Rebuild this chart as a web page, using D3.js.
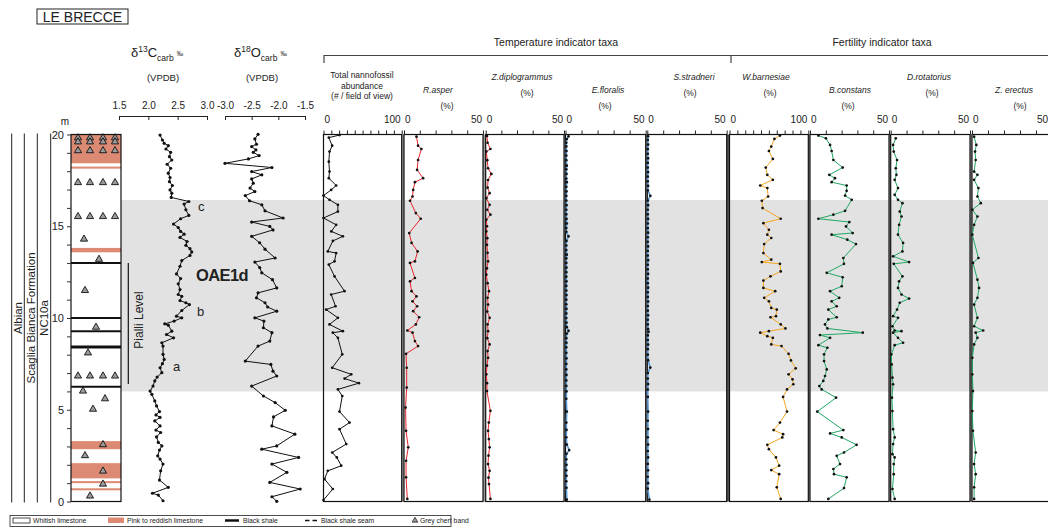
<!DOCTYPE html>
<html>
<head>
<meta charset="utf-8">
<script src="https://cdn.jsdelivr.net/npm/d3@7"></script>
<style>
  body { margin: 0; background: #fff; }
  svg { display: block; }
  text { font-family: "Liberation Sans", Arial, sans-serif; fill: #222; }
</style>
</head>
<body>
<svg id="chart" width="1048" height="527"></svg>
<script>
// ---- data: [depth (m), value] ----
const d13C = [[19.97,2.20],[19.70,2.24],[19.52,2.27],[19.39,2.34],[19.21,2.30],[19.03,2.38],[18.79,2.36],[18.61,2.40],[18.38,2.32],[18.16,2.38],[17.89,2.34],[17.65,2.37],[17.43,2.36],[17.22,2.41],[16.98,2.37],[16.80,2.40],[16.57,2.39],[16.35,2.69],[16.21,2.61],[15.90,2.64],[15.59,2.69],[15.41,2.55],[15.12,2.43],[14.93,2.51],[14.72,2.55],[14.57,2.61],[14.39,2.54],[14.17,2.66],[13.96,2.64],[13.78,2.71],[13.60,2.74],[13.41,2.71],[13.13,2.57],[12.82,2.54],[12.40,2.48],[12.15,2.55],[11.86,2.51],[11.55,2.54],[11.28,2.51],[11.18,2.57],[10.95,2.54],[10.83,2.64],[10.73,2.70],[10.41,2.57],[10.10,2.48],[10.01,2.57],[9.83,2.44],[9.68,2.28],[9.61,2.34],[9.28,2.40],[9.10,2.31],[8.92,2.43],[8.65,2.23],[8.47,2.25],[8.02,2.25],[7.74,2.27],[7.51,2.24],[7.29,2.20],[7.02,2.23],[6.78,2.15],[6.57,2.11],[6.29,2.08],[6.02,2.03],[5.84,2.06],[5.48,2.11],[5.21,2.14],[4.90,2.19],[4.72,2.13],[4.58,2.20],[4.39,2.11],[4.12,2.20],[3.89,2.13],[3.76,2.21],[3.52,2.14],[3.22,2.17],[3.03,2.23],[2.80,2.19],[2.49,2.16],[2.31,2.20],[2.04,2.25],[1.67,2.21],[1.17,2.19],[0.77,2.34],[0.45,2.07],[0.35,2.17],[0.04,2.25]];

const d18O = [[20.01,-2.38],[19.76,-2.44],[19.47,-2.41],[19.34,-2.50],[19.16,-2.42],[19.03,-2.47],[18.85,-2.36],[18.67,-2.56],[18.43,-3.00],[18.20,-2.12],[17.98,-2.50],[17.80,-2.31],[17.58,-2.50],[17.35,-2.47],[17.08,-2.53],[16.89,-2.44],[16.67,-2.62],[16.39,-2.54],[16.17,-2.31],[15.84,-2.25],[15.45,-1.91],[15.23,-2.50],[14.99,-2.16],[14.80,-2.10],[14.45,-2.50],[14.10,-2.35],[13.75,-2.25],[13.27,-2.06],[13.05,-2.44],[12.75,-2.35],[12.46,-2.31],[12.09,-2.11],[11.64,-2.03],[11.37,-2.38],[11.10,-2.41],[10.83,-2.25],[10.60,-2.20],[10.37,-2.03],[10.01,-2.44],[9.83,-2.27],[9.47,-2.28],[9.20,-2.12],[8.74,-2.16],[8.47,-2.38],[7.65,-2.62],[7.47,-2.14],[7.10,-2.10],[6.84,-2.03],[6.29,-2.50],[5.75,-2.28],[5.39,-2.06],[4.97,-1.87],[4.61,-2.09],[4.12,-2.12],[3.67,-1.69],[3.03,-2.03],[2.85,-2.31],[2.40,-1.62],[2.04,-2.12],[1.59,-1.84],[1.04,-2.16],[0.68,-1.59],[0.26,-2.12],[0.01,-2.03]];

const abundance = [[19.97,20.5],[19.83,6.8],[19.39,11.1],[19.07,7.7],[18.52,6.8],[17.98,7.7],[17.62,6.8],[17.22,16.2],[16.98,9.8],[16.67,0],[16.44,7.7],[16.17,18.4],[15.80,18.4],[15.45,0],[15.08,16.2],[14.72,10],[14.45,24.8],[14.20,12],[13.63,5.5],[13.54,16.2],[13.09,14.1],[12.91,6.8],[12.27,14.1],[11.46,26.9],[11.28,9.8],[10.64,15.4],[10.46,3.4],[10.01,18.4],[9.65,7.7],[9.28,24.8],[9.20,11.9],[8.92,18.4],[8.02,24],[7.29,11.1],[6.93,35.5],[6.70,27],[6.45,45.3],[6.11,18.4],[5.75,24],[4.90,20.5],[4.30,33.3],[3.94,20.5],[3.13,29.1],[2.67,11.1],[2.40,17],[1.95,22.7],[1.67,5.5],[1.22,1.3],[0.68,11.9],[0.08,0]];

const rAsper = [[19.88,7.9],[19.39,8.9],[19.21,11.0],[18.61,8.9],[18.07,8.3],[17.62,12.1],[17.40,6.9],[16.98,5.8],[16.62,5.4],[16.39,3.8],[15.72,7.5],[15.41,10.6],[14.63,3.3],[14.09,4.8],[13.63,8.6],[13.09,6.9],[13.00,3.8],[12.18,6.9],[12.00,3.8],[11.46,4.8],[11.18,7.9],[10.91,5.4],[10.64,8.3],[10.37,5.8],[10.04,9.6],[9.65,7.5],[9.32,2.1],[9.20,5.4],[8.74,6.9],[8.47,8.9],[8.05,1.3],[7.29,1.7],[6.21,1.7],[5.12,1.0],[3.85,1.3],[2.95,2.7],[2.22,1.3],[1.32,1.3],[0.14,2.1]];

const zDiplogrammus = [[19.92,0.8],[19.55,1.2],[19.21,3.0],[19.07,0.4],[18.60,1.0],[18.16,1.5],[17.85,3.6],[17.52,1.5],[17.10,1.2],[16.80,2.5],[16.53,0.4],[16.17,2.5],[15.90,1.0],[15.63,3.0],[15.35,0.4],[15.00,0.8],[14.72,0.4],[14.35,1.0],[13.99,0.8],[13.55,1.2],[13.09,1.5],[12.70,0.8],[12.36,0.4],[11.90,1.2],[11.46,2.1],[11.10,1.2],[10.73,1.5],[10.35,1.0],[10.01,2.5],[9.65,1.2],[9.28,1.5],[8.90,1.0],[8.56,2.5],[8.20,1.2],[7.83,1.5],[7.40,0.8],[6.93,0.4],[6.45,0.8],[6.02,0.8],[4.94,3.0],[4.30,2.0],[3.85,1.5],[3.40,2.0],[2.95,2.5],[2.50,1.8],[2.04,1.5],[1.67,2.5],[1.30,1.8],[0.95,2.1],[0.14,3.0]];

const eFloralis = [[19.90,1.9],[19.75,0.8],[19.55,0.5],[19.35,0.5],[19.10,0.6],[18.85,0.5],[18.60,0.5],[18.30,0.8],[18.10,0.5],[17.85,0.6],[17.60,0.5],[17.40,0.8],[17.15,0.5],[16.90,0.6],[16.65,0.5],[16.40,0.5],[16.15,0.6],[15.90,0.5],[15.65,0.5],[15.40,0.6],[15.15,0.8],[14.90,0.5],[14.70,0.5],[14.45,1.9],[14.20,0.6],[13.95,0.5],[13.70,0.5],[13.45,0.8],[13.25,0.5],[13.00,0.5],[12.75,0.6],[12.50,0.5],[12.25,0.5],[12.00,0.6],[11.75,0.5],[11.50,0.5],[11.25,0.6],[11.00,0.5],[10.75,0.5],[10.50,0.6],[10.25,0.5],[10.00,0.5],[9.75,0.6],[9.50,0.8],[9.30,1.9],[9.15,0.8],[8.90,0.5],[8.65,0.6],[8.40,0.5],[8.10,0.5],[7.80,0.6],[7.50,0.5],[7.20,0.5],[6.90,0.6],[6.60,0.5],[6.30,0.5],[6.00,0.6],[5.60,0.5],[4.90,0.8],[4.30,0.5],[3.90,0.6],[3.50,0.5],[3.10,0.8],[2.80,2.3],[2.60,0.6],[2.30,0.5],[2.00,0.6],[1.70,0.5],[1.40,0.6],[1.10,0.5],[0.75,0.6],[0.10,0.8]];

const sStradneri = [[19.90,0.5],[19.70,0.3],[19.45,0.5],[19.20,0.3],[18.95,0.3],[18.70,0.5],[18.45,0.3],[18.20,0.3],[17.95,0.5],[17.70,0.3],[17.45,0.3],[17.20,0.5],[16.95,0.3],[16.66,1.9],[16.40,0.3],[16.15,0.5],[15.90,0.3],[15.65,0.3],[15.40,0.5],[15.15,0.3],[14.90,0.3],[14.65,0.5],[14.40,0.3],[14.15,0.3],[13.90,0.5],[13.65,0.3],[13.40,0.3],[13.15,0.5],[12.90,0.3],[12.65,0.3],[12.40,0.5],[12.15,0.3],[11.90,0.3],[11.65,0.5],[11.40,0.3],[11.15,0.3],[10.90,0.5],[10.65,0.3],[10.40,0.3],[10.15,0.5],[9.90,0.3],[9.65,0.3],[9.40,0.5],[9.25,0.8],[9.05,0.3],[8.80,0.3],[8.55,0.5],[8.30,0.3],[8.00,0.3],[7.70,0.5],[7.30,1.9],[7.00,0.3],[6.70,0.3],[6.40,0.5],[6.10,0.3],[5.70,0.3],[4.90,0.5],[4.40,0.3],[3.95,0.5],[3.50,0.3],[3.10,0.5],[2.75,0.3],[2.40,0.5],[2.05,0.3],[1.70,0.5],[1.35,0.3],[1.00,0.5],[0.70,0.3],[0.10,1.3]];

const wBarnesiae = [[19.94,64],[19.76,57],[19.34,53],[19.10,50],[18.67,55],[18.20,46],[17.80,48],[17.53,55],[17.22,39],[17.08,48],[16.62,49],[16.39,41],[15.99,42],[15.41,65],[15.17,43],[14.81,50],[14.54,48],[14.36,53],[14.03,44],[13.54,43],[13.18,53],[13.05,41],[12.95,64],[12.54,65],[12.27,52],[12.04,43],[11.64,43],[11.46,58],[11.10,44],[10.91,50],[10.55,53],[10.46,60],[10.10,59],[10.04,52],[9.65,65],[9.43,71],[9.28,50],[9.20,39],[9.01,48],[8.92,55],[8.56,53],[8.47,66],[8.05,75],[7.69,78],[7.26,84],[6.93,75],[6.66,80],[6.39,81],[6.11,73],[5.70,68],[4.90,73],[4.30,64],[3.89,56],[3.67,68],[3.49,67],[3.09,48],[2.85,50],[2.40,59],[1.95,63],[1.71,53],[1.49,63],[0.77,60],[0.14,65]];

const bConstans = [[19.94,5.3],[19.79,10.1],[19.43,12.7],[19.10,13.7],[18.61,14.8],[18.20,20.7],[17.80,12.2],[17.62,15.8],[17.40,13.7],[17.22,23.2],[16.93,23.2],[16.67,22.2],[16.44,26.4],[15.84,22.2],[15.63,14.8],[15.41,5.3],[15.23,24.9],[14.99,22.8],[14.63,27.0],[14.54,13.7],[14.27,23.6],[14.03,29.1],[13.27,21.1],[12.95,21.5],[12.46,10.6],[12.22,20.7],[11.73,20.1],[11.46,12.7],[11.10,18.5],[10.91,13.7],[10.64,16.9],[10.46,11.6],[10.04,16.9],[9.92,11.6],[9.65,9.5],[9.43,11.0],[9.20,33.4],[9.07,6.3],[8.92,12.7],[8.52,5.3],[8.38,11.0],[8.02,8.9],[7.65,8.9],[7.20,10.6],[6.84,9.5],[6.57,8.4],[6.29,5.9],[6.11,7.4],[5.66,16.5],[4.90,4.6],[3.89,21.1],[3.71,12.7],[3.49,20.1],[3.09,29.5],[2.67,21.5],[2.49,16.9],[2.04,19.0],[1.77,14.8],[1.49,15.2],[1.32,23.2],[0.73,21.5],[0.14,11.6]];

const dRotatorius = [[19.79,3.2],[19.43,1.5],[19.07,1.9],[18.61,4.0],[18.16,3.2],[17.80,3.6],[17.53,2.5],[17.08,4.6],[16.71,2.5],[16.44,4.6],[16.26,7.4],[15.80,5.7],[15.53,6.8],[15.08,5.3],[14.54,4.6],[14.09,7.8],[13.63,7.4],[13.36,1.5],[13.05,11.6],[12.95,1.9],[12.27,7.4],[12.00,5.3],[11.64,4.6],[11.28,6.8],[11.06,11.6],[10.83,5.7],[10.46,4.0],[10.10,1.5],[10.01,4.6],[9.55,1.1],[9.32,2.5],[9.28,6.8],[9.20,1.5],[8.92,4.6],[8.65,7.8],[8.52,2.5],[8.02,0.4],[7.47,0.6],[6.75,1.1],[6.39,1.5],[5.66,0.8],[4.93,1.1],[3.94,1.5],[3.49,2.5],[3.13,1.5],[2.58,1.1],[2.40,2.5],[2.04,1.9],[1.49,1.9],[0.68,1.1],[0.14,2.5]];

const zErectus = [[19.88,1.3],[19.43,2.7],[19.07,1.9],[18.61,2.3],[17.98,1.3],[17.80,3.4],[17.53,1.3],[17.08,4.0],[16.62,3.4],[16.26,5.5],[15.90,0.2],[15.53,3.4],[15.08,1.3],[14.54,0.2],[13.27,4.0],[13.00,0.6],[12.09,3.4],[11.64,4.4],[11.10,3.4],[10.73,1.3],[10.01,3.4],[9.55,1.3],[9.32,7.0],[9.20,2.3],[8.92,3.4],[8.56,1.3],[7.83,0.2],[6.93,0.2],[6.02,0.6],[4.93,0.2],[3.85,0.6],[2.67,2.3],[2.04,1.3],[1.49,2.3],[0.77,1.3],[0.14,1.3]];

// lithology (depth intervals, m)
const pinkBeds = [[18.43,20],[18.14,18.25],[13.58,13.82],[2.85,3.29],[1.26,2.09],[1.0,1.11],[0.61,0.72]];
const blackShale = [13.0,10.0,9.28,8.42,6.26];
const chertRows = [19.82,19.6,19.12,17.38,15.53,6.84];
const chertSingle = [[14.3,0.26],[13.2,0.56],[11.5,0.28],[9.5,0.5],[8.1,0.34],[6.02,0.24],[5.6,0.68],[5.03,0.44],[3.1,0.64],[2.5,0.28],[1.66,0.64],[0.95,0.64],[0.3,0.38]];
const oaeBand = [6.0, 16.43];

// ---- layout ----
const svg = d3.select("#chart");
const y = d3.scaleLinear().domain([0, 20]).range([501.5, 134.5]);
const colX0 = 71, colX1 = 121;
const PINK = "#dc8a74";

// grey OAE band
svg.append("rect").attr("x", colX1).attr("width", 1048 - colX1)
  .attr("y", y(oaeBand[1])).attr("height", y(oaeBand[0]) - y(oaeBand[1]))
  .attr("fill", "#e1e2e1");

// title box
svg.append("rect").attr("x", 37).attr("y", 9).attr("width", 91).attr("height", 15)
  .attr("fill", "none").attr("stroke", "#222").attr("stroke-width", 1);
svg.append("text").attr("x", 82.5).attr("y", 21.5).attr("text-anchor", "middle")
  .attr("font-size", 14).text("LE BRECCE");

// stratigraphic columns
[11.7, 24.3, 37.3, 50.7].forEach(x => {
  svg.append("line").attr("x1", x).attr("x2", x).attr("y1", y(20) - 1).attr("y2", y(0) + 1)
    .attr("stroke", "#222").attr("stroke-width", 1);
});
[["Albian", 18], ["Scaglia Bianca Formation", 31], ["NC10a", 44]].forEach(([t, x]) => {
  svg.append("text").attr("transform", `translate(${x + 4},318) rotate(-90)`)
    .attr("text-anchor", "middle").attr("font-size", 11.5).text(t);
});

// lithology column
const lith = svg.append("g");
lith.append("rect").attr("x", colX0).attr("y", y(20)).attr("width", colX1 - colX0)
  .attr("height", y(0) - y(20)).attr("fill", "#fff");
lith.selectAll(".pink").data(pinkBeds).join("rect")
  .attr("x", colX0).attr("width", colX1 - colX0)
  .attr("y", d => y(d[1])).attr("height", d => y(d[0]) - y(d[1])).attr("fill", PINK);
lith.selectAll(".shale").data(blackShale).join("line")
  .attr("x1", colX0).attr("x2", colX1).attr("y1", d => y(d)).attr("y2", d => y(d))
  .attr("stroke", "#111").attr("stroke-width", (d, i) => i === 3 ? 2.8 : 2);
const tri = d3.symbol().type(d3.symbolTriangle).size(22);
const chertPts = [];
chertRows.forEach(dep => [0.14, 0.38, 0.64, 0.88].forEach(f => chertPts.push([dep, f])));
chertSingle.forEach(p => chertPts.push(p));
lith.selectAll(".tri").data(chertPts).join("path")
  .attr("d", tri).attr("transform", d => `translate(${colX0 + d[1] * (colX1 - colX0)},${y(d[0])})`)
  .attr("fill", "#9b9b9b").attr("stroke", "#111").attr("stroke-width", 0.9);
lith.append("rect").attr("x", colX0).attr("y", y(20)).attr("width", colX1 - colX0)
  .attr("height", y(0) - y(20)).attr("fill", "none").attr("stroke", "#111").attr("stroke-width", 1.2);

// depth axis
const yAxis = svg.append("g").attr("transform", `translate(${colX0},0)`)
  .call(d3.axisLeft(y).tickValues(d3.range(0, 21)).tickSize(4).tickPadding(3)
    .tickFormat(d => d % 5 === 0 ? d : ""));
yAxis.select(".domain").remove();
yAxis.selectAll("text").attr("font-family", "'Liberation Serif', 'DejaVu Serif', serif")
  .attr("font-size", 11).attr("fill", "#333");
yAxis.selectAll("line").attr("stroke", "#333");
svg.append("text").attr("x", 65).attr("y", 125).attr("text-anchor", "middle")
  .attr("font-size", 10).text("m");

// Pialli Level
svg.append("line").attr("x1", 128.3).attr("x2", 128.3).attr("y1", y(13)).attr("y2", y(6.4))
  .attr("stroke", "#111").attr("stroke-width", 1.2);
svg.append("text").attr("transform", "translate(143,320) rotate(-90)")
  .attr("text-anchor", "middle").attr("font-size", 12).attr("fill", "#333").text("Pialli Level");

// profile helper
function drawProfile(data, x, color, r, w) {
  const pts = data.slice().sort((a, b) => b[0] - a[0]);
  const line = d3.line().x(d => x(d[1])).y(d => y(d[0]));
  svg.append("path").datum(pts).attr("d", line).attr("fill", "none")
    .attr("stroke", color).attr("stroke-width", w || 1);
  svg.append("g").selectAll("circle").data(pts).join("circle")
    .attr("cx", d => x(d[1])).attr("cy", d => y(d[0])).attr("r", r).attr("fill", "#111");
}

function isoHeader(x, sup, letter, cx, tickVals, scale) {
  const t = svg.append("text").attr("x", x).attr("y", 57).attr("font-size", 13);
  t.append("tspan").text("δ");
  t.append("tspan").attr("dy", -5).attr("font-size", 8.5).text(sup);
  t.append("tspan").attr("dy", 5).text(letter);
  t.append("tspan").attr("dy", 4).attr("font-size", 8.5).text("carb");
  t.append("tspan").attr("dy", -5).attr("dx", 3).attr("font-size", 6.5).text("‰");
  svg.append("text").attr("x", cx).attr("y", 81).attr("text-anchor", "middle")
    .attr("font-size", 9.5).text("(VPDB)");
  const ax = svg.append("g").attr("transform", "translate(0,116)")
    .call(d3.axisTop(scale).tickValues(tickVals).tickSize(-4).tickPadding(7)
      .tickFormat(d => d.toFixed(1)));
  ax.selectAll("text").attr("font-size", 10).attr("font-family", "'Liberation Sans', Arial, sans-serif");
  ax.selectAll("path,line").attr("stroke", "#222");
}

const xC = d3.scaleLinear().domain([1.5, 3.0]).range([119, 207]);
const xO = d3.scaleLinear().domain([-3.0, -1.5]).range([225, 305]);
isoHeader(131, "13", "C", 163, [1.5, 2.0, 2.5, 3.0], xC);
isoHeader(234, "18", "O", 262, [-3.0, -2.5, -2.0, -1.5], xO);
drawProfile(d13C, xC, "#111", 1.6);
drawProfile(d18O, xO, "#111", 1.6);

const osans = "'Open Sans', sans-serif";
svg.append("text").attr("x", 198).attr("y", 211).attr("font-family", osans)
  .attr("font-size", 13).attr("fill", "#333").text("c");
svg.append("text").attr("x", 197).attr("y", 316).attr("font-family", osans)
  .attr("font-size", 13).attr("fill", "#333").text("b");
svg.append("text").attr("x", 173).attr("y", 371).attr("font-family", osans)
  .attr("font-size", 13).attr("fill", "#333").text("a");
svg.append("text").attr("x", 196).attr("y", 281).attr("font-family", osans)
  .attr("font-size", 16.5).attr("font-weight", "bold").attr("letter-spacing", -0.6)
  .attr("fill", "#222").text("OAE1d");

// ---- nannofossil panels ----
const RED = "#e8262c", BLUE = "#5a9ad6", ORANGE = "#f5a51f", GREEN = "#1fa763";
const panels = [
  { data: abundance, x0: 323.5, x1: 401.7, max: 100, color: "#111", label: ["Total nannofossil", "abundance", "(# / field of view)"], lx: 362, ly: 78, italic: false },
  { data: rAsper, x0: 404, x1: 483, max: 50, color: RED, label: ["R.asper"], lx: 438, px: 447, ly: 93 },
  { data: zDiplogrammus, x0: 485.7, x1: 564, max: 50, color: RED, label: ["Z.diplogrammus"], lx: 522, px: 527, ly: 80 },
  { data: eFloralis, x0: 565.5, x1: 645.7, max: 50, color: BLUE, w: 1.6, label: ["E.floralis"], lx: 608, px: 605, ly: 93 },
  { data: sStradneri, x0: 647.3, x1: 726.7, max: 50, color: BLUE, w: 1.6, label: ["S.stradneri"], lx: 694, px: 690, ly: 80 },
  { data: wBarnesiae, x0: 729.5, x1: 808.3, max: 100, color: ORANGE, label: ["W.barnesiae"], lx: 766, px: 770, ly: 80 },
  { data: bConstans, x0: 810, x1: 889, max: 50, color: GREEN, label: ["B.constans"], lx: 850, px: 848, ly: 93 },
  { data: dRotatorius, x0: 890.7, x1: 970, max: 50, color: GREEN, label: ["D.rotatorius"], lx: 929, px: 932, ly: 80 },
  { data: zErectus, x0: 972, x1: 1052, max: 50, color: GREEN, label: ["Z. erectus"], lx: 1014, px: 1020, ly: 93 }
];

// gap fills between adjacent panels
panels.forEach((p, i) => {
  if (i === 0) return;
  const prev = panels[i - 1];
  svg.append("rect").attr("x", prev.x1).attr("width", Math.max(0, p.x0 - prev.x1))
    .attr("y", y(20)).attr("height", y(0) - y(20))
    .attr("fill", i === 5 ? "#555" : "#9a9a9a");
});

panels.forEach(p => {
  const x = d3.scaleLinear().domain([0, p.max]).range([p.x0, p.x1]);
  svg.append("rect").attr("x", p.x0).attr("y", y(20)).attr("width", p.x1 - p.x0)
    .attr("height", y(0) - y(20)).attr("fill", "none").attr("stroke", "#111").attr("stroke-width", 1.2);
  const ax = svg.append("g").attr("transform", `translate(0,${y(20)})`)
    .call(d3.axisTop(x).tickValues(d3.range(0, p.max + 1, 10)).tickSize(4).tickFormat(""));
  ax.select(".domain").remove();
  ax.selectAll("line").attr("stroke", "#222");
  svg.append("text").attr("x", p.x0 + 1).attr("y", 123).attr("font-size", 10).text("0");
  svg.append("text").attr("x", Math.min(p.x1 - 1, 1048)).attr("y", 123).attr("text-anchor", "end")
    .attr("font-size", 10).text(p.max);
  p.label.forEach((t, i) => {
    svg.append("text").attr("x", p.lx).attr("y", p.ly + i * 10.5).attr("text-anchor", "middle")
      .attr("font-size", 8.5).attr("font-style", p.italic === false ? "normal" : "italic").text(t);
  });
  if (p.px) {
    svg.append("text").attr("x", p.px).attr("y", p.ly + 15.5).attr("text-anchor", "middle")
      .attr("font-size", 8.5).text("(%)");
  }
  drawProfile(p.data, x, p.color, 1.35, p.w);
});

// group headers
svg.append("text").attr("x", 556).attr("y", 46).attr("text-anchor", "middle")
  .attr("font-size", 10.5).text("Temperature indicator taxa");
svg.append("text").attr("x", 882).attr("y", 46).attr("text-anchor", "middle")
  .attr("font-size", 10.5).text("Fertility indicator taxa");
svg.append("path").attr("d", "M324,63V55.5H1048M731,55.5V63").attr("fill", "none")
  .attr("stroke", "#444").attr("stroke-width", 1.2);

// ---- legend ----
const lg = svg.append("g");
lg.append("rect").attr("x", 10).attr("y", 515.5).attr("width", 441).attr("height", 11)
  .attr("fill", "#fff").attr("stroke", "#222").attr("stroke-width", 0.8);
lg.append("rect").attr("x", 13).attr("y", 518).attr("width", 17).attr("height", 5)
  .attr("fill", "#fff").attr("stroke", "#222").attr("stroke-width", 0.8);
lg.append("rect").attr("x", 108).attr("y", 517.5).attr("width", 16).attr("height", 5.5).attr("fill", PINK);
lg.append("line").attr("x1", 225).attr("x2", 239).attr("y1", 520.5).attr("y2", 520.5)
  .attr("stroke", "#111").attr("stroke-width", 2.5);
lg.append("line").attr("x1", 305).attr("x2", 317).attr("y1", 520.5).attr("y2", 520.5)
  .attr("stroke", "#111").attr("stroke-width", 1.5).attr("stroke-dasharray", "4.5,3");
lg.append("path").attr("d", d3.symbol().type(d3.symbolTriangle).size(14))
  .attr("transform", "translate(415,520.5)").attr("fill", "#9b9b9b").attr("stroke", "#111").attr("stroke-width", 0.7);
[["Whitish limestone", 33], ["Pink to reddish limestone", 127], ["Black shale", 243],
 ["Black shale seam", 321], ["Grey chert band", 420]].forEach(([t, x]) => {
  lg.append("text").attr("x", x).attr("y", 523.3).attr("font-size", 6.8).attr("fill", "#333").text(t);
});
</script>
</body>
</html>
